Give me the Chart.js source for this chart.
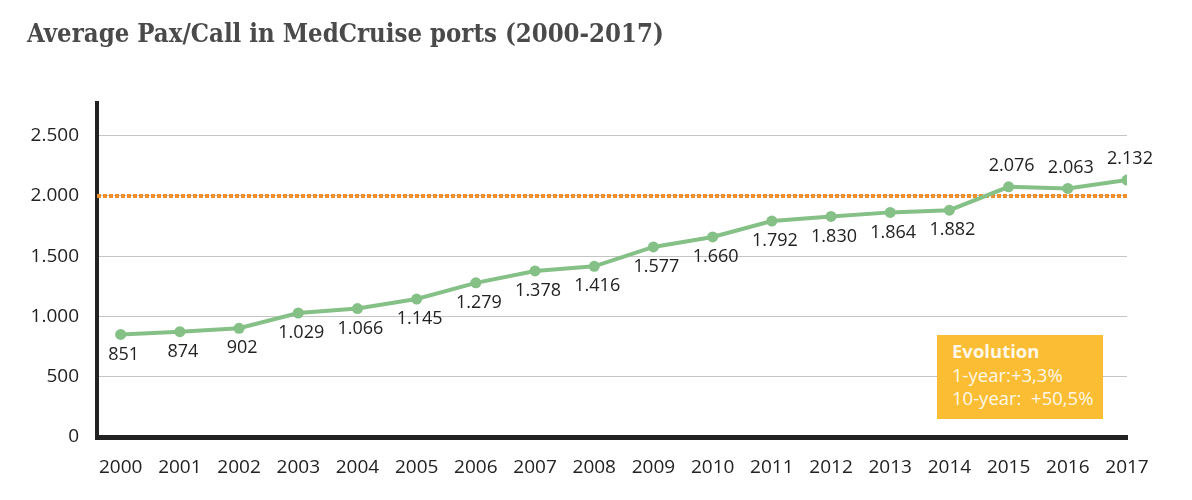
<!DOCTYPE html>
<html>
<head>
<meta charset="utf-8">
<script src="https://cdn.jsdelivr.net/npm/chart.js@4.4.1/dist/chart.umd.min.js"></script>
<style>
  html, body { margin: 0; padding: 0; background: #fff; }
  #wrap { position: relative; width: 1192px; height: 500px; }
  #evo {
    position: absolute; left: 937px; top: 335px; width: 166px; height: 84px;
    background: #fbbd33; color: #fff8e8; box-sizing: border-box; padding: 4px 0 0 15px;
    font-family: "Open Sans", sans-serif; font-size: 18.5px; line-height: 23.5px; white-space: nowrap;
  }
  #evo b { font-weight: 700; }
</style>
</head>
<body>
<div id="wrap">
  <canvas id="c" width="1192" height="500"></canvas>
  <div id="evo"><b>Evolution</b><br>1-year:+3,3%<br>10-year:&nbsp; +50,5%</div>
</div>
<script>
const years = ['2000','2001','2002','2003','2004','2005','2006','2007','2008','2009','2010','2011','2012','2013','2014','2015','2016','2017'];
const paxPerCall = [851, 874, 902, 1029, 1066, 1145, 1279, 1378, 1416, 1577, 1660, 1792, 1830, 1864, 1882, 2076, 2063, 2132];
const yTickValues = [0, 500, 1000, 1500, 2000, 2500];
const threshold = 2000;
const titleText = 'Average Pax/Call in MedCruise ports (2000-2017)';

function fmt(v) { return String(v).replace(/\B(?=(\d{3})+(?!\d))/g, '.'); }

const xMin = Number(years[0]) - 0.4;
const xMax = Number(years[years.length - 1]);

const valueLabels = {
  id: 'valueLabels',
  afterDatasetsDraw(chart) {
    const meta = chart.getDatasetMeta(1);
    const ds = chart.data.datasets[1];
    const ctx = chart.ctx;
    ctx.save();
    ctx.font = '18px "Open Sans", sans-serif';
    ctx.fillStyle = '#222';
    ctx.textAlign = 'center';
    ctx.textBaseline = 'middle';
    meta.data.forEach((pt, i) => {
      const v = ds.data[i].y;
      const dy = v > threshold ? -21 : 20;
      ctx.fillText(fmt(v), pt.x + 3, pt.y + dy);
    });
    ctx.restore();
  }
};

new Chart(document.getElementById('c'), {
  type: 'line',
  data: {
    datasets: [
      {
        data: [{x: xMin, y: threshold}, {x: xMax, y: threshold}],
        borderColor: '#f0922b',
        borderWidth: 4,
        borderDash: [4, 2],
        pointRadius: 0,
        order: 2
      },
      {
        data: years.map((y, i) => ({x: Number(y), y: paxPerCall[i]})),
        borderColor: '#85c086',
        backgroundColor: '#85c086',
        borderWidth: 4,
        pointRadius: 5.5,
        pointBorderWidth: 0,
        tension: 0,
        order: 1
      }
    ]
  },
  options: {
    responsive: false,
    animation: false,
    devicePixelRatio: 1,
    layout: { padding: { left: 27, right: 65, top: 0, bottom: 0 } },
    plugins: {
      legend: { display: false },
      tooltip: { enabled: false },
      title: {
        display: true,
        text: titleText,
        align: 'start',
        color: '#4a4a4a',
        font: { family: '"DejaVu Serif Condensed", "DejaVu Serif", serif', size: 25.5, weight: 'bold', lineHeight: 1.2 },
        padding: { top: 20, bottom: 52 }
      }
    },
    scales: {
      x: {
        type: 'linear',
        min: xMin,
        max: xMax,
        afterBuildTicks: s => { s.ticks = years.map(y => ({value: Number(y)})); },
        afterFit: s => { s.height = 63; },
        grid: { display: false, drawTicks: false },
        border: { display: true, color: '#222', width: 5 },
        ticks: {
          padding: 19,
          color: '#222',
          font: { family: '"Open Sans", sans-serif', size: 19 },
          maxRotation: 0,
          autoSkip: false,
          callback: v => String(v)
        }
      },
      y: {
        min: 0,
        max: 2775,
        afterBuildTicks: s => { s.ticks = yTickValues.map(v => ({value: v})); },
        afterFit: s => { s.width = 70; },
        grid: { color: '#c4c4c4', lineWidth: 1, drawTicks: false },
        border: { display: true, color: '#222', width: 4 },
        ticks: {
          padding: 18,
          color: '#222',
          font: { family: '"Open Sans", sans-serif', size: 19 },
          callback: v => fmt(v)
        }
      }
    }
  },
  plugins: [valueLabels]
});
</script>
</body>
</html>
